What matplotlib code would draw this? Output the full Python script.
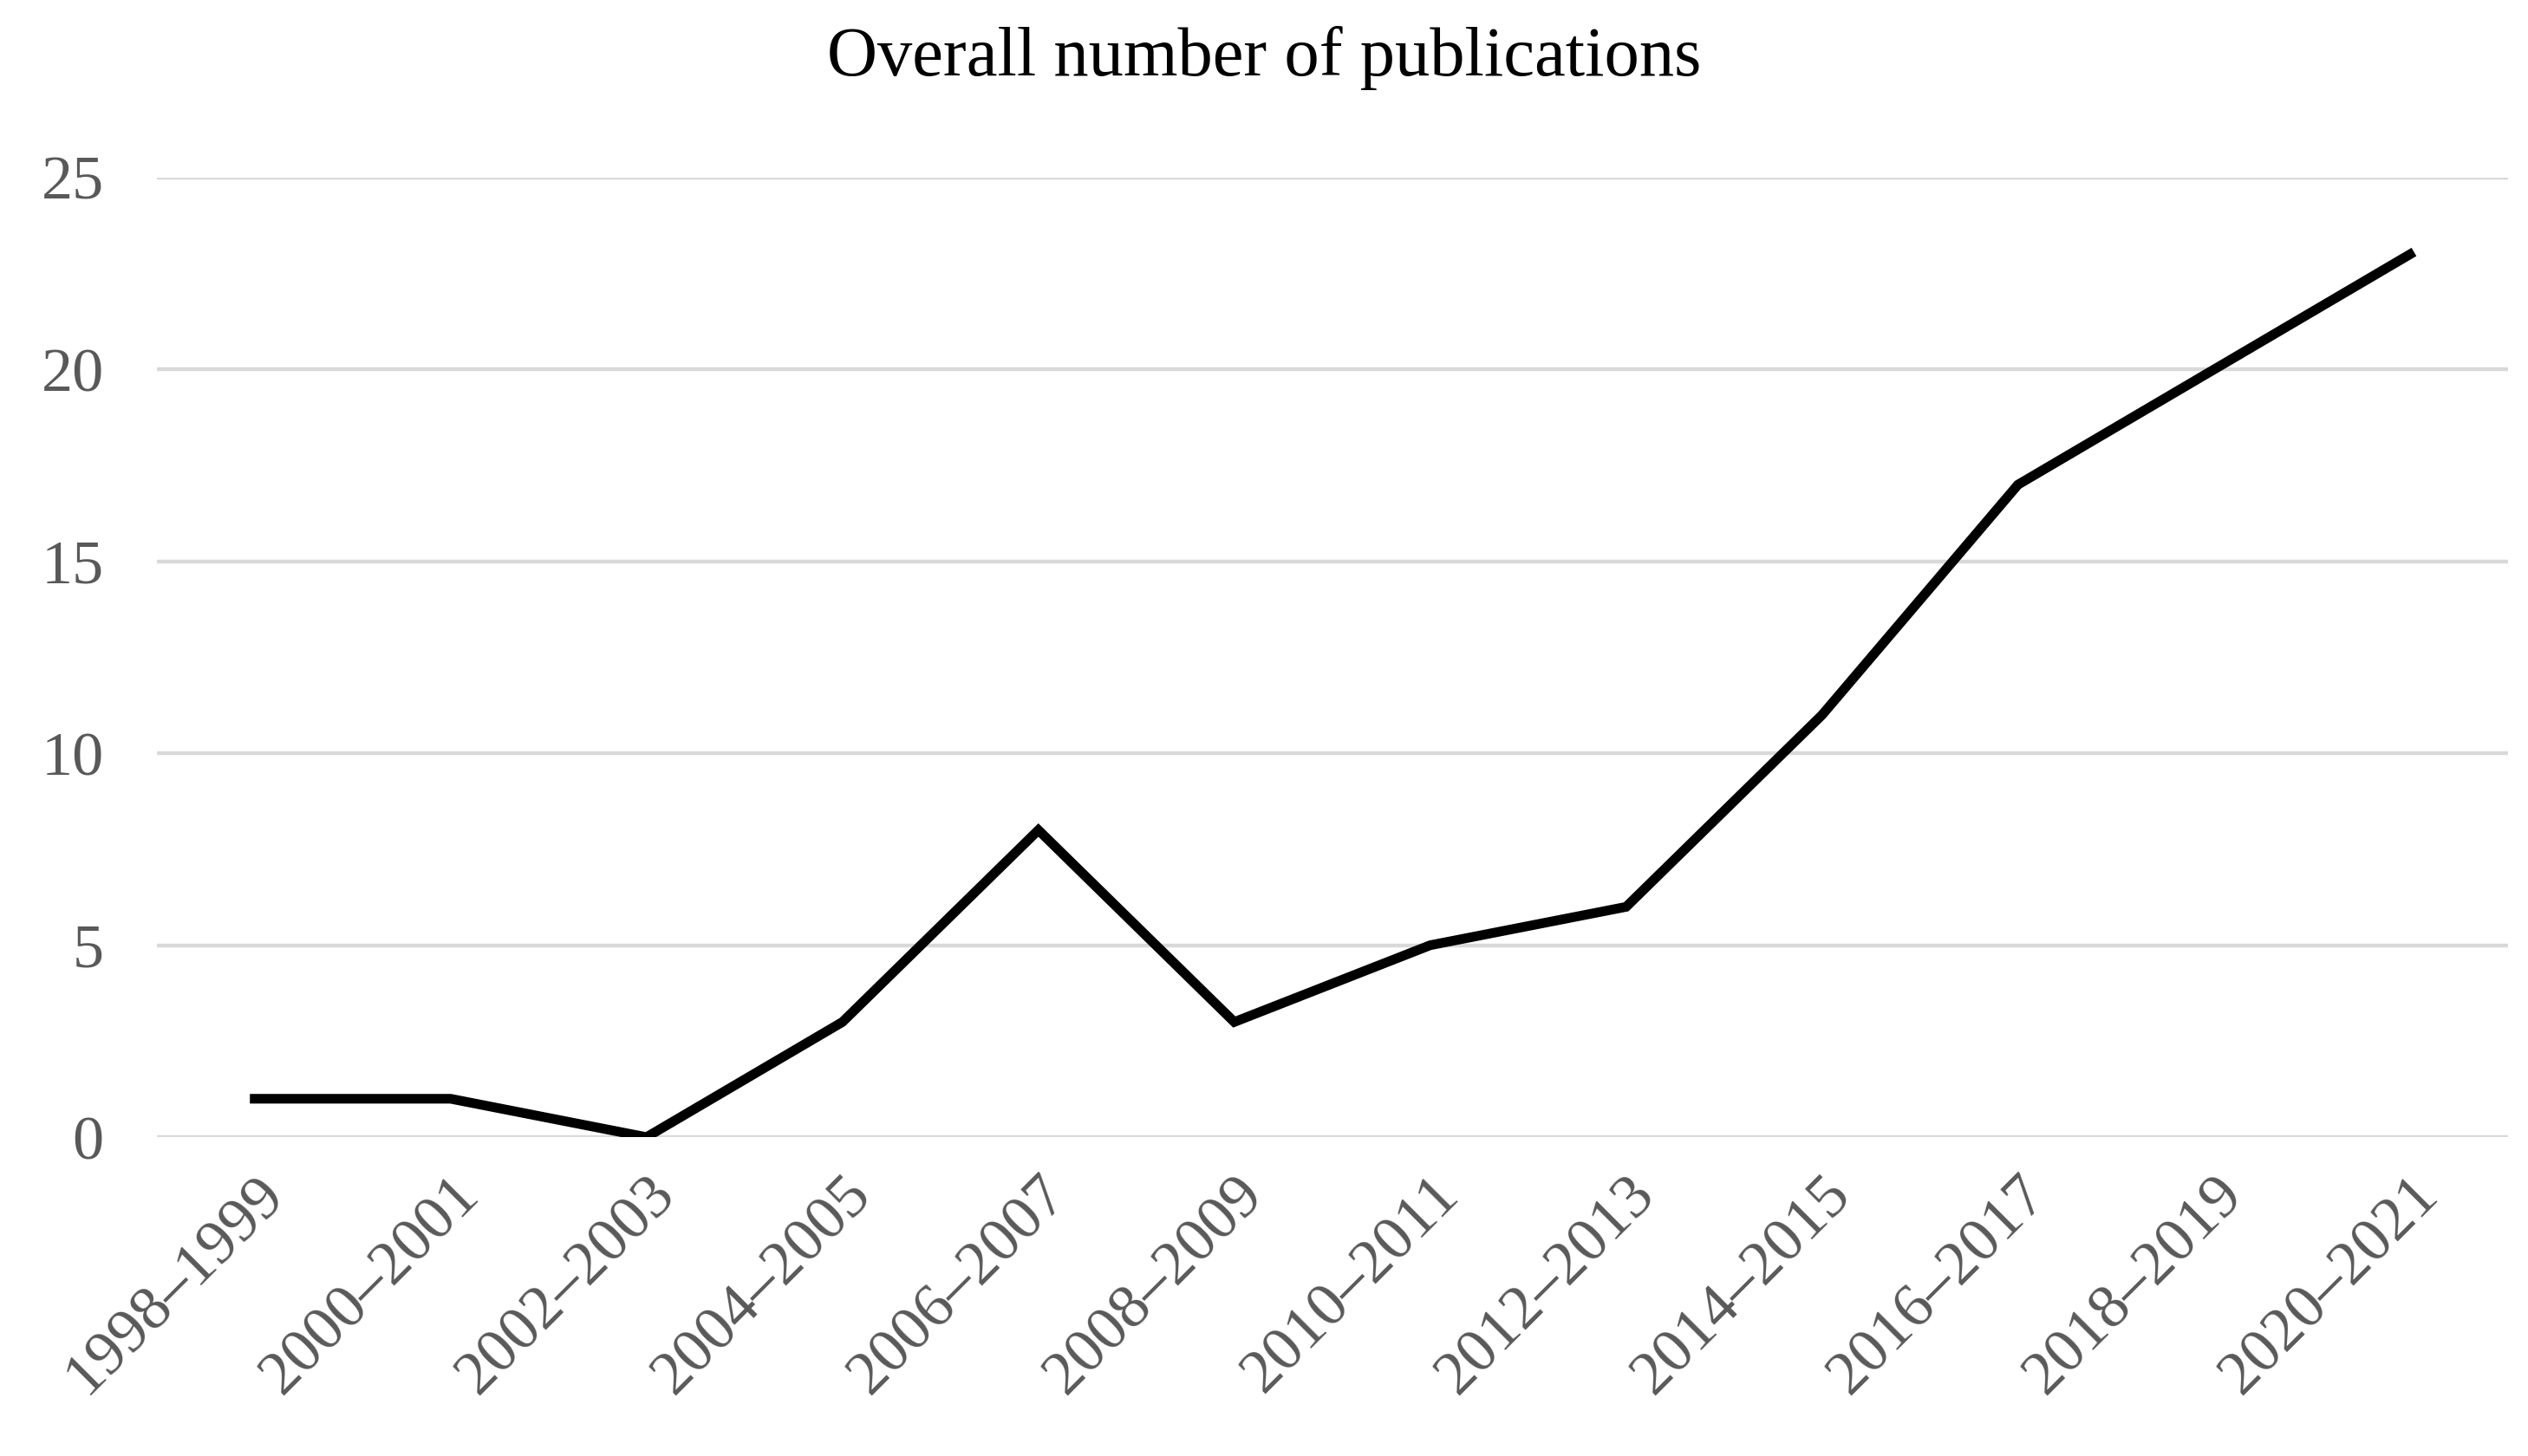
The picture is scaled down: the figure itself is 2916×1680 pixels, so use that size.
import matplotlib
matplotlib.use('Agg')
import matplotlib.pyplot as plt

# data
periods = ["1998–1999", "2000–2001", "2002–2003", "2004–2005", "2006–2007", "2008–2009",
           "2010–2011", "2012–2013", "2014–2015", "2016–2017", "2018–2019", "2020–2021"]
publications = [1, 1, 0, 3, 8, 3, 5, 6, 11, 17, 20, 23]
y_ticks = [0, 5, 10, 15, 20, 25]

plt.rcParams['font.family'] = ['Liberation Serif', 'DejaVu Serif']

fig = plt.figure(figsize=(14.58, 8.4), dpi=200)
ax = fig.add_axes([0.062, 0.219, 0.93, 0.659])

x = list(range(len(periods)))
ax.plot(x, publications, color='black', linewidth=4, solid_joinstyle='miter', zorder=3)

ax.set_xlim(-0.5, len(periods) - 0.5)
ax.set_ylim(0, 25)
ax.set_yticks(y_ticks)
ax.set_xticks(x)
ax.set_xticklabels(periods, rotation=45, ha='right', rotation_mode='anchor')
ax.tick_params(axis='both', length=0, labelsize=26, colors='#595959', pad=12)
ax.tick_params(axis='y', pad=22)
ax.grid(axis='y', color='#d9d9d9', linewidth=1.6)
ax.set_axisbelow(True)
for s in ax.spines.values():
    s.set_visible(False)

fig.text(0.5, 0.96, "Overall number of publications", ha='center', va='center',
         fontsize=29, color='black')

fig.savefig("out.png", dpi=200)
